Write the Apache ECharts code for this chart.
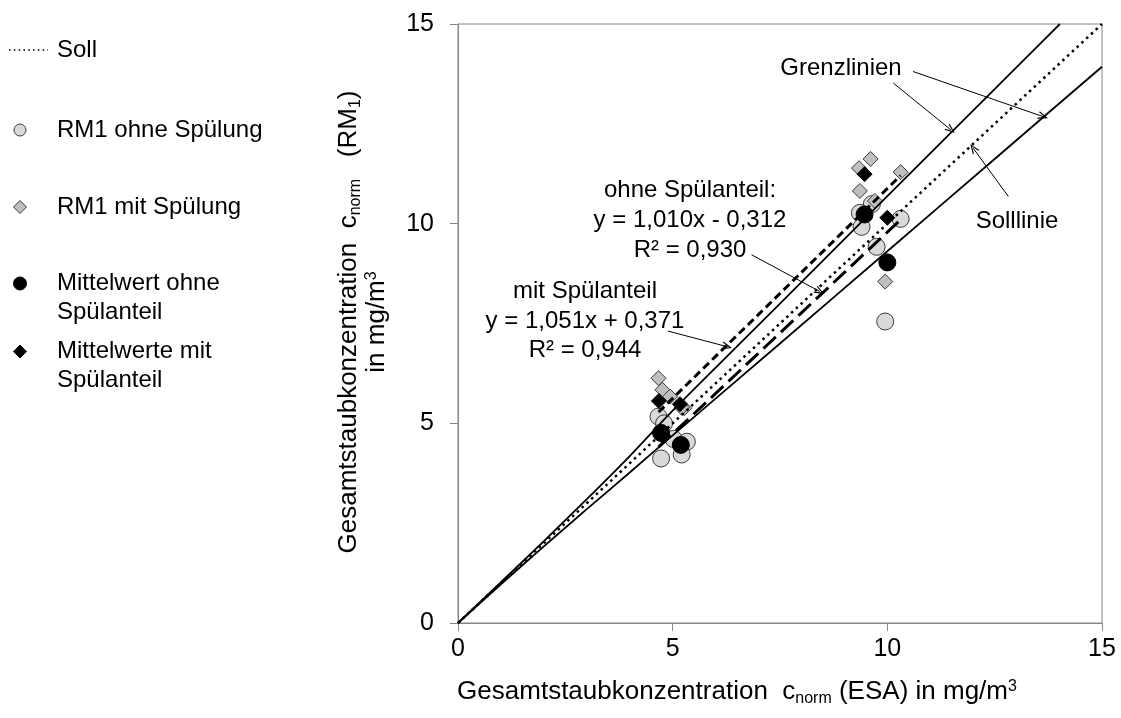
<!DOCTYPE html>
<html>
<head>
<meta charset="utf-8">
<script src="https://cdn.jsdelivr.net/npm/echarts@6/dist/echarts.min.js"></script>
<style>
  html, body { margin: 0; padding: 0; background: #fff; }
  #chart { width: 1121px; height: 718px; }
</style>
</head>
<body>
<div id="chart"></div>
<script>
// Axis ticks (mg/m³)
const axisTicks = [0, 5, 10, 15];

// RM1 ohne Spülung (single measurements)
const ohneX = [4.67, 4.80, 4.73, 5.02, 5.33, 5.21, 9.64, 9.36, 9.40, 10.31, 9.75, 9.95];
const ohneY = [5.17, 5.00, 4.12, 4.61, 4.54, 4.22, 10.49, 10.27, 9.92, 10.12, 9.42, 7.55];

// RM1 mit Spülung (single measurements)
const mitX = [4.67, 4.76, 4.73, 4.94, 5.27, 5.21, 9.61, 9.34, 9.36, 10.31, 9.71, 9.95];
const mitY = [6.13, 5.84, 4.71, 5.67, 5.38, 5.39, 11.62, 11.39, 10.82, 11.29, 10.57, 8.55];

// Mean values
const meanOhneX = [4.73, 5.19, 9.47, 10.00];
const meanOhneY = [4.76, 4.46, 10.23, 9.03];
const meanMitX = [4.68, 5.17, 9.47, 10.00];
const meanMitY = [5.56, 5.48, 11.24, 10.15];

// Target line y = x
const sollX = [0, 15];
const sollY = [0, 15];

// Limit lines
const grenzObenX = [0, 1, 2, 3, 4, 5, 7.5, 10, 12.5, 14.02];
const grenzObenY = [0, 1.02, 2.05, 3.10, 4.18, 5.32, 8.00, 10.69, 13.37, 15.00];
const grenzUntenX = [0, 1, 2, 3, 4, 5, 7.5, 10, 12.5, 15];
const grenzUntenY = [0, 0.97, 1.92, 2.85, 3.77, 4.70, 7.00, 9.31, 11.62, 13.93];

// Regression lines as stated in the annotations
const fitMit = { slope: 1.051, intercept: 0.371, range: [4.67, 10.31] };
const fitOhne = { slope: 1.010, intercept: -0.312, range: [4.67, 10.31] };

// Annotation arrows (data coordinates: start, end)
const arrowStart = [[10.14, 13.52], [10.60, 13.81], [12.82, 10.68], [6.84, 9.22], [4.89, 7.31]];
const arrowEnd   = [[11.48, 12.35], [13.63, 12.68], [12.00, 11.89], [8.43, 8.30], [6.27, 6.92]];

const FONT = '"Liberation Sans", Arial, Helvetica, sans-serif';
const pairs = (xs, ys) => xs.map((x, i) => [x, ys[i]]);
const fitLine = f => f.range.map(x => [x, +(f.slope * x + f.intercept).toFixed(4)]);

const arrowHead = 'path://M0,10 L5,0 L10,10 L8.4,10 L5,3 L1.6,10 Z';

const chart = echarts.init(document.getElementById('chart'), null, { renderer: 'canvas' });

const axisCommon = {
  type: 'value',
  min: 0, max: 15, interval: 5,
  axisLine: { show: true, lineStyle: { color: '#868686', width: 1 } },
  axisTick: { show: true, inside: false, length: 8, lineStyle: { color: '#868686', width: 1 } },
  splitLine: { show: false },
  axisLabel: {
    color: '#000', fontSize: 25, fontFamily: FONT,
    customValues: axisTicks
  }
};

const richBase = {
  n:   { fontSize: 26, fontFamily: FONT, color: '#000', lineHeight: 28, verticalAlign: 'top' },
  sub: { fontSize: 16, fontFamily: FONT, color: '#000', lineHeight: 16, verticalAlign: 'top', padding: [12, 0, 0, 0] },
  sup: { fontSize: 16, fontFamily: FONT, color: '#000', lineHeight: 16, verticalAlign: 'top', padding: [0, 0, 12, 0] }
};

const legendFont = { fontSize: 24, fontFamily: FONT, fill: '#000' };

const option = {
  animation: false,
  backgroundColor: '#fff',
  grid: {
    left: 458, right: 19, top: 24, bottom: 95,
    show: true, borderColor: '#868686', borderWidth: 1, backgroundColor: 'transparent'
  },
  xAxis: Object.assign({}, axisCommon, {
    axisLabel: Object.assign({}, axisCommon.axisLabel, { margin: 14 }),
    axisTick: Object.assign({}, axisCommon.axisTick, { customValues: axisTicks })
  }),
  yAxis: Object.assign({}, axisCommon, {
    axisLabel: Object.assign({}, axisCommon.axisLabel, { margin: 24 }),
    axisTick: Object.assign({}, axisCommon.axisTick, { customValues: axisTicks })
  }),
  series: [
    {
      name: 'Soll', type: 'line', data: pairs(sollX, sollY),
      showSymbol: false, silent: true,
      lineStyle: { color: '#000', width: 2.5, type: [2.5, 4] },
      markLine: {
        silent: true, animation: false,
        symbol: ['none', arrowHead], symbolSize: [8, 10],
        label: { show: false },
        lineStyle: { color: '#000', width: 1, type: 'solid' },
        emphasis: { disabled: true },
        data: arrowStart.map((s, i) => [{ coord: s }, { coord: arrowEnd[i] }])
      }
    },
    {
      name: 'Grenzlinie oben', type: 'line', data: pairs(grenzObenX, grenzObenY),
      showSymbol: false, silent: true, smooth: 0.25,
      lineStyle: { color: '#000', width: 1.8 }
    },
    {
      name: 'Grenzlinie unten', type: 'line', data: pairs(grenzUntenX, grenzUntenY),
      showSymbol: false, silent: true, smooth: 0.25,
      lineStyle: { color: '#000', width: 1.8 }
    },
    {
      name: 'RM1 ohne Spülung', type: 'scatter', data: pairs(ohneX, ohneY),
      symbol: 'circle', symbolSize: 17, silent: true,
      itemStyle: { color: '#d9d9d9', borderColor: '#3a3a3a', borderWidth: 1, opacity: 1 }
    },
    {
      name: 'RM1 mit Spülung', type: 'scatter', data: pairs(mitX, mitY),
      symbol: 'diamond', symbolSize: 15, silent: true,
      itemStyle: { color: '#bfbfbf', borderColor: '#3a3a3a', borderWidth: 1, opacity: 1 }
    },
    {
      name: 'Regression ohne Spülanteil', type: 'line', data: fitLine(fitOhne),
      showSymbol: false, silent: true,
      lineStyle: { color: '#000', width: 3, type: [17, 7] }
    },
    {
      name: 'Regression mit Spülanteil', type: 'line', data: fitLine(fitMit),
      showSymbol: false, silent: true,
      lineStyle: { color: '#000', width: 3, type: [8, 4.5] }
    },
    {
      name: 'Mittelwert ohne Spülanteil', type: 'scatter', data: pairs(meanOhneX, meanOhneY),
      symbol: 'circle', symbolSize: 17, silent: true,
      itemStyle: { color: '#000', borderColor: '#000', borderWidth: 1, opacity: 1 }
    },
    {
      name: 'Mittelwerte mit Spülanteil', type: 'scatter', data: pairs(meanMitX, meanMitY),
      symbol: 'diamond', symbolSize: 15, silent: true,
      itemStyle: { color: '#000', borderColor: '#000', borderWidth: 1, opacity: 1 }
    }
  ],
  graphic: [
    // Legend
    { type: 'line', silent: true, shape: { x1: 9, y1: 50, x2: 48, y2: 50 },
      style: { stroke: '#000', lineWidth: 1.6, lineDash: [1.6, 3.2] } },
    { type: 'text', silent: true, x: 57, y: 50,
      style: Object.assign({ text: 'Soll', verticalAlign: 'middle' }, legendFont) },

    { type: 'circle', silent: true, shape: { cx: 20, cy: 130, r: 6 },
      style: { fill: '#d9d9d9', stroke: '#3a3a3a', lineWidth: 1 } },
    { type: 'text', silent: true, x: 57, y: 130,
      style: Object.assign({ text: 'RM1 ohne Spülung', verticalAlign: 'middle' }, legendFont) },

    { type: 'polygon', silent: true, shape: { points: [[20, 200.5], [26.5, 207], [20, 213.5], [13.5, 207]] },
      style: { fill: '#bfbfbf', stroke: '#3a3a3a', lineWidth: 1 } },
    { type: 'text', silent: true, x: 57, y: 207,
      style: Object.assign({ text: 'RM1 mit Spülung', verticalAlign: 'middle' }, legendFont) },

    { type: 'circle', silent: true, shape: { cx: 20, cy: 283.5, r: 6.5 },
      style: { fill: '#000', stroke: '#000', lineWidth: 1 } },
    { type: 'text', silent: true, x: 57, y: 269.5,
      style: Object.assign({ text: 'Mittelwert ohne\nSpülanteil', verticalAlign: 'top', lineHeight: 28.4 }, legendFont) },

    { type: 'polygon', silent: true, shape: { points: [[20, 345], [26.5, 351.5], [20, 358], [13.5, 351.5]] },
      style: { fill: '#000', stroke: '#000', lineWidth: 1 } },
    { type: 'text', silent: true, x: 57, y: 337.5,
      style: Object.assign({ text: 'Mittelwerte mit\nSpülanteil', verticalAlign: 'top', lineHeight: 28.4 }, legendFont) },

    // Annotations inside the plot
    { type: 'text', silent: true, x: 841, y: 68,
      style: { text: 'Grenzlinien', align: 'center', verticalAlign: 'middle', fontSize: 24, fontFamily: FONT, fill: '#000' } },
    { type: 'text', silent: true, x: 1017, y: 221,
      style: { text: 'Solllinie', align: 'center', verticalAlign: 'middle', fontSize: 24, fontFamily: FONT, fill: '#000' } },
    { type: 'text', silent: true, x: 690, y: 175,
      style: { text: 'ohne Spülanteil:\ny = 1,010x - 0,312\nR² = 0,930', align: 'center', verticalAlign: 'top',
               lineHeight: 30, fontSize: 24, fontFamily: FONT, fill: '#000' } },
    { type: 'text', silent: true, x: 585, y: 277,
      style: { text: 'mit Spülanteil\ny = 1,051x + 0,371\nR² = 0,944', align: 'center', verticalAlign: 'top',
               lineHeight: 29.5, fontSize: 24, fontFamily: FONT, fill: '#000' } },

    // Axis titles
    { type: 'text', silent: true, x: 737, y: 679,
      style: {
        text: '{n|Gesamtstaubkonzentration  c}{sub|norm}{n| (ESA) in mg/m}{sup|3}',
        rich: richBase, align: 'center', verticalAlign: 'top'
      } },
    { type: 'text', silent: true, x: 364, y: 322, rotation: Math.PI / 2,
      style: {
        text: '{n|Gesamtstaubkonzentration  c}{sub|norm}{n|   (RM}{sub|1}{n|)}\n{n|in mg/m}{sup|3}',
        rich: richBase, align: 'center', verticalAlign: 'middle'
      } }
  ]
};

chart.setOption(option);
</script>
</body>
</html>
